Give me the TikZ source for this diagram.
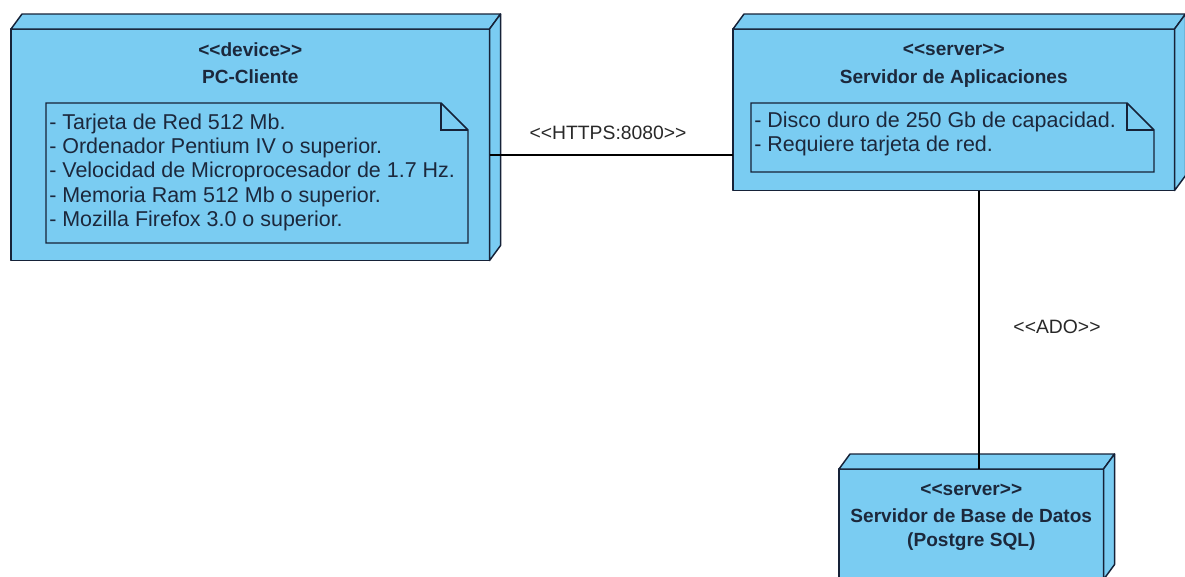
\documentclass[tikz,border=0pt]{standalone}
\usepackage{fontspec}
\setmainfont{Liberation Sans}
\usetikzlibrary{calc}
\definecolor{nodefill}{RGB}{122,204,242}
\definecolor{edgecol}{RGB}{22,34,56}
\definecolor{txtcol}{RGB}{28,40,60}
\definecolor{lblcol}{RGB}{40,40,40}
\newcommand\lsg{<\kern0pt<}
\newcommand\rsg{>\kern0pt>}
\newcommand\depthfaces[1]{%
  \draw[face] (#1.north west) rectangle (#1.south east);
  \draw[face] (#1.north west) -- ++(11,-15) -- ($(#1.north east)+(11,-15)$) -- (#1.north east) -- cycle;
  \draw[face] (#1.north east) -- ++(11,-15) -- ($(#1.south east)+(11,-15)$) -- (#1.south east) -- cycle;}
\begin{document}
\begin{tikzpicture}[x=0.75pt,y=-0.75pt,
  nodebox/.style={fill=nodefill,inner sep=0pt,anchor=north west},
  face/.style={draw=edgecol,fill=nodefill,line width=1.1pt,line join=round},
  titletxt/.style={font=\fontsize{14.3}{17}\selectfont\bfseries,text=txtcol,inner sep=0pt,anchor=base},
  notetxt/.style={font=\fontsize{16.1}{18.2}\selectfont,text=txtcol,align=left,inner sep=0pt,anchor=north west},
  notebox/.style={draw=edgecol,fill=nodefill,line width=1.1pt,line join=miter},
  foldline/.style={draw=edgecol,line width=1.1pt},
  conn/.style={draw=black,line width=1pt},
  connlbl/.style={font=\fontsize{14.5}{16}\selectfont,text=lblcol,inner sep=0pt}]
\useasboundingbox (0,0) rectangle (1185,576);
\clip (0,0) rectangle (1185,576);

\node[nodebox,minimum width=358.5pt,minimum height=173.25pt] (pc) at (11,29) {};
\node[nodebox,minimum width=330.75pt,minimum height=120.75pt] (app) at (733,29) {};
\node[nodebox,minimum width=198pt,minimum height=82.5pt] (db) at (839,469) {};
\depthfaces{pc}
\depthfaces{app}
\depthfaces{db}

% connectors
\draw[conn] (pc.east |- 0,155) -- (app.west |- 0,155);
\draw[conn] (app.south -| 979,0) -- (db.north -| 979,0);
\node[connlbl] (httpslbl) at (608,133) {\lsg HTTPS:8080\rsg};
\node[connlbl] (adolbl) at (1057,327) {\lsg ADO\rsg};

% PC-Cliente
\node[titletxt] (pcst) at ($(pc.north)+(0,27)$) {\lsg device\rsg};
\node[titletxt] (pcname) at ($(pc.north)+(0,54)$) {PC-Cliente};
\draw[notebox] (46,103) -- (441,103) -- (468,130) -- (468,243) -- (46,243) -- cycle;
\draw[foldline] (441,103) -- (441,130) -- (468,130);
\node[notetxt] (pcnote) at (49,113.5) {- Tarjeta de Red 512 Mb.\\- Ordenador Pentium IV o superior.\\- Velocidad de Microprocesador de 1.7 Hz.\\- Memoria Ram 512 Mb o superior.\\- Mozilla Firefox 3.0 o superior.};

% Servidor de Aplicaciones
\node[titletxt] (appst) at ($(app.north)+(0,26)$) {\lsg server\rsg};
\node[titletxt] (appname) at ($(app.north)+(0,54)$) {Servidor de Aplicaciones};
\draw[notebox] (751,103) -- (1127,103) -- (1154,130) -- (1154,172) -- (751,172) -- cycle;
\draw[foldline] (1127,103) -- (1127,130) -- (1154,130);
\node[notetxt] (appnote) at (754,111.5) {- Disco duro de 250 Gb de capacidad.\\- Requiere tarjeta de red.};

% Servidor de Base de Datos
\node[titletxt] (dbst) at ($(db.north)+(0,26)$) {\lsg server\rsg};
\node[titletxt] (dbname) at ($(db.north)+(0,53)$) {Servidor de Base de Datos};
\node[titletxt] (dbname2) at ($(db.north)+(0,77)$) {(Postgre SQL)};
\end{tikzpicture}
\end{document}
